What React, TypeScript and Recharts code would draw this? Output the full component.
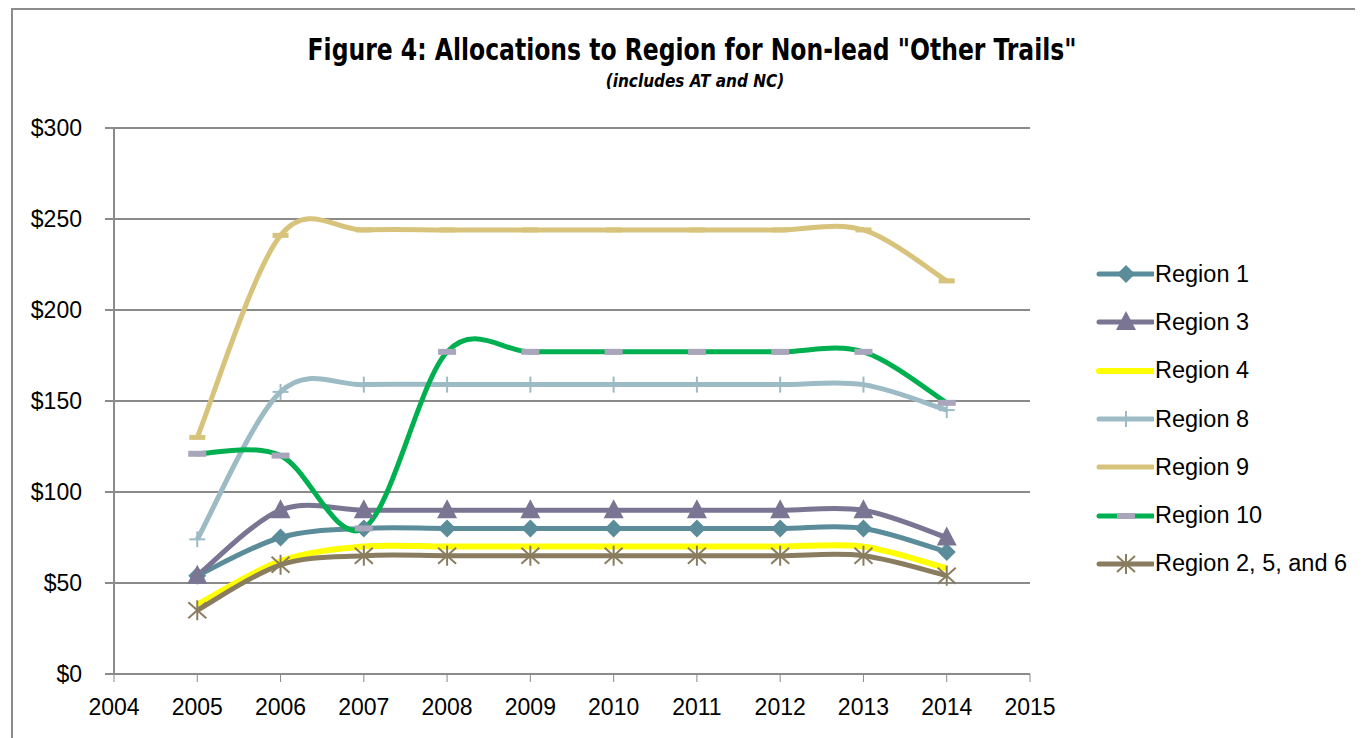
import React from "react";
import { LineChart, Line, XAxis, YAxis, CartesianGrid } from "recharts";

const years = [2005, 2006, 2007, 2008, 2009, 2010, 2011, 2012, 2013, 2014];
const region1 = [54, 75, 80, 80, 80, 80, 80, 80, 80, 67];
const region3 = [54, 90, 90, 90, 90, 90, 90, 90, 90, 75];
const region4 = [38, 62, 70, 70, 70, 70, 70, 70, 70, 58];
const region8 = [74, 155, 159, 159, 159, 159, 159, 159, 159, 145];
const region9 = [130, 241, 244, 244, 244, 244, 244, 244, 244, 216];
const region10 = [121, 120, 80, 177, 177, 177, 177, 177, 177, 149];
const region256 = [35, 60, 65, 65, 65, 65, 65, 65, 65, 54];
const xTicks = [2004, 2005, 2006, 2007, 2008, 2009, 2010, 2011, 2012, 2013, 2014, 2015];
const yTicks = [0, 50, 100, 150, 200, 250, 300];

const data = years.map((y, i) => ({
  year: y,
  r1: region1[i],
  r3: region3[i],
  r4: region4[i],
  r8: region8[i],
  r9: region9[i],
  r10: region10[i],
  r256: region256[i],
}));

const C1 = "#5B8C9A";
const C3 = "#7A7593";
const C4 = "#FFFF00";
const C8 = "#9CBBC5";
const C9 = "#D8C37C";
const C10 = "#00B050";
const C10M = "#A9A5BA";
const C256 = "#8A7D5F";

// Excel-like smoothing (Catmull-Rom as cubic Bezier)
const excelSmooth: any = (context: any) => {
  let xs: number[] = [];
  let ys: number[] = [];
  return {
    areaStart() {},
    areaEnd() {},
    lineStart() {
      xs = [];
      ys = [];
    },
    lineEnd() {
      const n = xs.length;
      if (!n) return;
      context.moveTo(xs[0], ys[0]);
      for (let i = 0; i < n - 1; i++) {
        const i0 = Math.max(i - 1, 0);
        const i3 = Math.min(i + 2, n - 1);
        const x0 = xs[i0], y0 = ys[i0];
        const x1 = xs[i], y1 = ys[i];
        const x2 = xs[i + 1], y2 = ys[i + 1];
        const x3 = xs[i3], y3 = ys[i3];
        context.bezierCurveTo(
          x1 + (x2 - x0) / 6,
          y1 + (y2 - y0) / 6,
          x2 - (x3 - x1) / 6,
          y2 - (y3 - y1) / 6,
          x2,
          y2
        );
      }
    },
    point(x: number, y: number) {
      xs.push(+x);
      ys.push(+y);
    },
  };
};

const Diamond = ({ cx, cy, c }: any) => (
  <polygon points={`${cx},${cy - 9} ${cx + 9},${cy} ${cx},${cy + 9} ${cx - 9},${cy}`} fill={c} />
);
const Triangle = ({ cx, cy, c }: any) => (
  <polygon points={`${cx},${cy - 11} ${cx + 10},${cy + 8} ${cx - 10},${cy + 8}`} fill={c} />
);
const Plus = ({ cx, cy, c }: any) => (
  <g stroke={c} strokeWidth={2}>
    <line x1={cx - 8} y1={cy} x2={cx + 8} y2={cy} />
    <line x1={cx} y1={cy - 8} x2={cx} y2={cy + 8} />
  </g>
);
const Dash = ({ cx, cy, c, w, h }: any) => (
  <rect x={cx - w / 2} y={cy - h / 2} width={w} height={h} fill={c} />
);
const Star = ({ cx, cy, c }: any) => (
  <g stroke={c} strokeWidth={2}>
    <line x1={cx} y1={cy - 10} x2={cx} y2={cy + 10} />
    <line x1={cx - 9} y1={cy - 8} x2={cx + 9} y2={cy + 8} />
    <line x1={cx - 9} y1={cy + 8} x2={cx + 9} y2={cy - 8} />
  </g>
);

const mk = (Comp: any, extra: any) => (p: any) => {
  if (p.cx == null || p.cy == null) return <g key={p.key} />;
  return (
    <g key={p.key}>
      <Comp cx={p.cx} cy={p.cy} {...extra} />
    </g>
  );
};

const legendItems = [
  { name: "Region 1", color: C1, w: 5, marker: (cx: number, cy: number) => <Diamond cx={cx} cy={cy} c={C1} /> },
  { name: "Region 3", color: C3, w: 5, marker: (cx: number, cy: number) => <Triangle cx={cx} cy={cy} c={C3} /> },
  { name: "Region 4", color: C4, w: 6, marker: null },
  { name: "Region 8", color: C8, w: 5, marker: (cx: number, cy: number) => <Plus cx={cx} cy={cy} c={C8} /> },
  { name: "Region 9", color: C9, w: 5, marker: null },
  { name: "Region 10", color: C10, w: 5, marker: (cx: number, cy: number) => <Dash cx={cx} cy={cy} c={C10M} w={18} h={6} /> },
  { name: "Region 2, 5, and 6", color: C256, w: 5, marker: (cx: number, cy: number) => <Star cx={cx} cy={cy} c={C256} /> },
];

const axisFont = { fontFamily: "'Liberation Sans', Arial, sans-serif", fontSize: 23, fill: "#000" };

export default function App() {
  return (
    <div
      style={{
        position: "relative",
        marginLeft: 3,
        width: 1350,
        height: 728,
        borderTop: "2px solid #8c8c8c",
        borderLeft: "2px solid #8c8c8c",
        background: "#fff",
        overflow: "hidden",
      }}
    >
      <div
        style={{
          position: "absolute",
          left: 679,
          top: 25,
          transform: "translateX(-50%) scaleX(0.87)",
          whiteSpace: "nowrap",
          fontFamily: "'DejaVu Sans Condensed', 'DejaVu Sans', sans-serif",
          fontWeight: "bold",
          fontSize: 30,
          lineHeight: 1,
          color: "#000",
        }}
      >
        Figure 4: Allocations to Region for Non-lead "Other Trails"
      </div>
      <div
        style={{
          position: "absolute",
          left: 682,
          top: 63,
          transform: "translateX(-50%)",
          whiteSpace: "nowrap",
          fontFamily: "'DejaVu Sans Condensed', 'DejaVu Sans', sans-serif",
          fontWeight: "bold",
          fontStyle: "italic",
          fontSize: 17,
          lineHeight: 1,
          color: "#000",
        }}
      >
        (includes AT and NC)
      </div>
      <LineChart
        width={1348}
        height={728}
        data={data}
        margin={{ top: 118, right: 331, bottom: 0, left: 0 }}
      >
        <CartesianGrid horizontal vertical={false} stroke="#8a8a8a" strokeWidth={2} />
        <XAxis
          dataKey="year"
          type="number"
          domain={[2004, 2015]}
          ticks={xTicks}
          allowDataOverflow
          height={64}
          tickSize={8}
          tickMargin={17}
          axisLine={{ stroke: "#8a8a8a", strokeWidth: 2 }}
          tickLine={{ stroke: "#8a8a8a", strokeWidth: 1 }}
          tick={axisFont}
        />
        <YAxis
          type="number"
          domain={[0, 300]}
          ticks={yTicks}
          width={101}
          tickSize={9}
          tickMargin={23}
          axisLine={{ stroke: "#8a8a8a", strokeWidth: 2 }}
          tickLine={{ stroke: "#8a8a8a", strokeWidth: 2 }}
          tick={axisFont}
          tickFormatter={(v: number) => `$${v}`}
        />
        <Line dataKey="r1" type={excelSmooth} stroke={C1} strokeWidth={5} isAnimationActive={false} dot={mk(Diamond, { c: C1 })} activeDot={false} />
        <Line dataKey="r3" type={excelSmooth} stroke={C3} strokeWidth={5} isAnimationActive={false} dot={mk(Triangle, { c: C3 })} activeDot={false} />
        <Line dataKey="r4" type={excelSmooth} stroke={C4} strokeWidth={6} isAnimationActive={false} dot={false} activeDot={false} />
        <Line dataKey="r8" type={excelSmooth} stroke={C8} strokeWidth={5} isAnimationActive={false} dot={mk(Plus, { c: C8 })} activeDot={false} />
        <Line dataKey="r9" type={excelSmooth} stroke={C9} strokeWidth={5} isAnimationActive={false} dot={mk(Dash, { c: C9, w: 16, h: 5 })} activeDot={false} />
        <Line dataKey="r10" type={excelSmooth} stroke={C10} strokeWidth={5} isAnimationActive={false} dot={mk(Dash, { c: C10M, w: 18, h: 6 })} activeDot={false} />
        <Line dataKey="r256" type={excelSmooth} stroke={C256} strokeWidth={5} isAnimationActive={false} dot={mk(Star, { c: C256 })} activeDot={false} />
      </LineChart>
      <div style={{ position: "absolute", left: 1083, top: 240 }}>
        {legendItems.map((it) => (
          <div key={it.name} style={{ display: "flex", alignItems: "center", height: 48.3 }}>
            <svg width={58} height={24} style={{ display: "block" }}>
              <line x1={3} y1={12} x2={57} y2={12} stroke={it.color} strokeWidth={it.w} strokeLinecap="round" />
              {it.marker ? it.marker(30, 12) : null}
            </svg>
            <span
              style={{
                fontFamily: "'Liberation Sans', Arial, sans-serif",
                fontSize: 23.5,
                color: "#000",
                marginLeft: 1,
                whiteSpace: "nowrap",
              }}
            >
              {it.name}
            </span>
          </div>
        ))}
      </div>
    </div>
  );
}
